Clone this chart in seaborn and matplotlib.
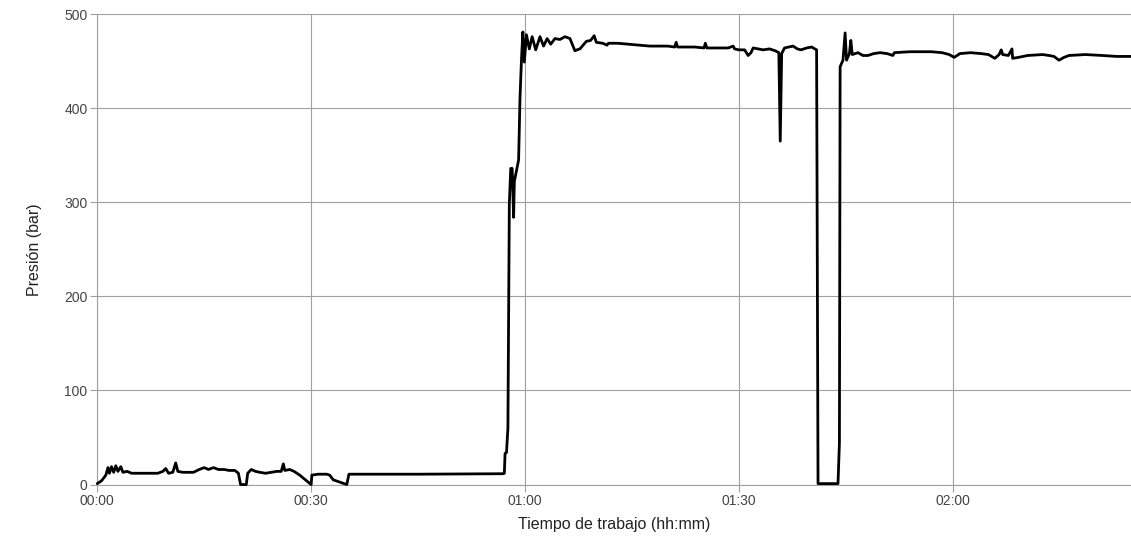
import matplotlib
matplotlib.use("Agg")
import matplotlib.pyplot as plt
from matplotlib.ticker import FuncFormatter
import pandas as pd
import seaborn as sns

# working time in minutes, pressure in bar
minutes = [
    0.0, 0.6, 1.2, 1.5, 1.7, 2.0, 2.3, 2.6, 2.9, 3.3, 3.6, 4.2, 4.8, 6.0, 8.5,
    9.2, 9.6, 10.0, 10.6, 11.0, 11.3, 12.0, 13.5, 14.3, 15.0, 15.6, 16.3, 17.0,
    17.8, 18.5, 19.3, 19.8, 20.1, 20.9, 21.1, 21.6, 22.2, 22.8, 23.6, 24.4, 25.2,
    25.8, 26.1, 26.3, 27.0, 27.6, 28.4, 30.0, 30.1, 31.0, 32.2, 32.6, 33.1, 35.0,
    35.3, 36.0, 45.0, 56.9, 57.1, 57.2, 57.4, 57.6, 57.8, 58.0, 58.2, 58.4, 58.5,
    59.1, 59.3, 59.5, 59.7, 59.9, 60.2, 60.6, 61.0, 61.5, 62.1, 62.6, 63.1, 63.6,
    64.2, 64.9, 65.6, 66.3, 67.0, 67.3, 67.7, 68.6, 69.2, 69.7, 70.0, 70.9, 71.5,
    71.7, 73.0, 74.5, 76.0, 77.5, 80.0, 81.0, 81.2, 81.4, 83.8, 85.1, 85.3, 85.5,
    87.3, 88.5, 89.2, 89.4, 90.0, 90.8, 91.3, 91.7, 92.0, 93.4, 94.3, 95.1, 95.6,
    95.8, 96.0, 96.4, 97.6, 98.2, 98.7, 99.5, 100.2, 100.9, 101.1, 102.5, 103.9,
    104.1, 104.2, 104.6, 104.9, 105.1, 105.5, 105.7, 105.9, 106.7, 107.4, 108.1,
    108.9, 109.8, 110.8, 111.6, 111.8, 114.0, 117.0, 118.5, 119.5, 120.2, 121.0,
    122.5, 124.0, 125.0, 125.9, 126.5, 126.8, 127.0, 127.8, 128.3, 128.4, 129.2,
    130.5, 132.6, 133.5, 134.2, 134.9, 135.6, 136.3, 138.6, 141.0, 143.0, 145.0,
]
pressure = [
    1, 4, 10, 18, 12, 19, 13, 20, 14, 19, 13, 14, 12, 12, 12,
    14, 17, 12, 13, 23, 14, 13, 13, 16, 18, 16, 18, 16,
    16, 15, 15, 12, 0, 0, 12, 16, 14, 13, 12, 13, 14,
    14, 22, 15, 16, 14, 10, 0, 10, 11, 11, 10, 5, 0,
    11, 11, 11, 11.5, 12, 33, 34, 60, 299, 336, 336, 284, 322,
    345, 412, 451, 481, 449, 478, 463, 476, 462, 476, 466, 474, 468,
    474, 473, 476, 474, 461, 462, 463, 471, 472, 477, 470, 469, 467,
    469, 469, 468, 467, 466, 466, 465, 470, 465, 465, 464, 469, 464,
    464, 464, 466, 463, 462, 462, 456, 459, 464, 462, 463, 461, 459,
    365, 458, 464, 466, 463, 462, 464, 465, 462, 1, 1, 1,
    44, 444, 451, 480, 451, 458, 472, 457, 459, 456, 456,
    458, 459, 458, 456, 459, 460, 460, 459, 457, 454, 458,
    459, 458, 457, 453, 457, 462, 457, 456, 463, 453, 454,
    456, 457, 456, 455, 451, 454, 456, 457, 456, 455, 455,
]
x_ticks = [0, 30, 60, 90, 120]
y_ticks = [0, 100, 200, 300, 400, 500]

df = pd.DataFrame({"min": minutes, "bar": pressure})

sns.set_style("white")
plt.rcParams["font.family"] = ["Liberation Sans", "DejaVu Sans"]

fig, ax = plt.subplots(figsize=(11.31, 5.42), dpi=100)
fig.subplots_adjust(left=0.086, right=1.0, top=0.974, bottom=0.106)

sns.lineplot(data=df, x="min", y="bar", color="black", linewidth=2.0,
             ax=ax, clip_on=False, zorder=3)

ax.set_xlim(0, 145)
ax.set_ylim(0, 500)
ax.set_xticks(x_ticks)
ax.set_yticks(y_ticks)
ax.xaxis.set_major_formatter(FuncFormatter(lambda v, p: "%02d:%02d" % (v // 60, v % 60)))

ax.grid(True, color="#a0a0a0", linewidth=0.8)
for s in ax.spines.values():
    s.set_visible(False)
# gridlines at the axis limits, drawn in full
ax.axhline(0, color="#a0a0a0", linewidth=0.8, zorder=1, clip_on=False)
ax.axvline(0, color="#a0a0a0", linewidth=0.8, zorder=1, clip_on=False)
ax.tick_params(axis="both", direction="out", length=5, width=0.8, color="#a0a0a0",
               bottom=True, left=True, labelsize=10, labelcolor="#444444", pad=2)

ax.set_xlabel("Tiempo de trabajo (hh:mm)", fontsize=11.5, color="#222222", labelpad=6)
ax.set_ylabel("Presión (bar)", fontsize=11.5, color="#222222", labelpad=16)

fig.savefig("out.png", dpi=100)
